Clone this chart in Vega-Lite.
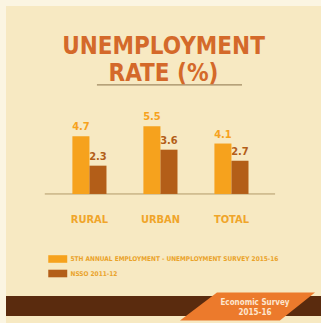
{
  "$schema": "https://vega.github.io/schema/vega-lite/v6.json",
  "width": 315,
  "height": 317,
  "autosize": {"type": "none"},
  "padding": {"left": 6, "top": 6, "right": 0, "bottom": 0},
  "background": "#fbf5e2",
  "config": {"view": {"fill": "#f7e9c2", "stroke": null}},
  "title": {
    "text": ["UNEMPLOYMENT", "RATE (%)"],
    "font": "DejaVu Sans Condensed",
    "fontWeight": "bold",
    "fontSize": 24,
    "lineHeight": 27,
    "color": "#d4692a",
    "anchor": "middle",
    "offset": -80
  },
  "data": {
    "values": [
      {"area": "RURAL", "series": "5TH ANNUAL EMPLOYMENT - UNEMPLOYMENT SURVEY 2015-16", "value": 4.7},
      {"area": "RURAL", "series": "NSSO 2011-12", "value": 2.3},
      {"area": "URBAN", "series": "5TH ANNUAL EMPLOYMENT - UNEMPLOYMENT SURVEY 2015-16", "value": 5.5},
      {"area": "URBAN", "series": "NSSO 2011-12", "value": 3.6},
      {"area": "TOTAL", "series": "5TH ANNUAL EMPLOYMENT - UNEMPLOYMENT SURVEY 2015-16", "value": 4.1},
      {"area": "TOTAL", "series": "NSSO 2011-12", "value": 2.7}
    ]
  },
  "layer": [
    {
      "data": {"values": [{"k": 1}]},
      "mark": {"type": "rect", "color": "#5a2b0e"},
      "encoding": {
        "y": {"datum": -8.29, "type": "quantitative", "axis": null},
        "y2": {"datum": -9.92}
      }
    },
    {
      "data": {"values": [{"k": 1}]},
      "mark": {"type": "point", "shape": "M -1 0.207 L -0.452 -0.207 L 1 -0.207 L 0.48 0.207 Z", "size": 18225, "filled": true, "color": "#ec7a2c", "opacity": 1, "strokeWidth": 0},
      "encoding": {
        "x": {"datum": "TOTAL", "type": "nominal", "bandPosition": 0.97, "axis": null},
        "y": {"datum": -9.15, "type": "quantitative", "axis": null}
      }
    },
    {
      "data": {"values": [{"k": 1}]},
      "mark": {"type": "text", "text": ["Economic Survey", "2015-16"], "color": "#fde6cf", "font": "DejaVu Sans Condensed", "fontWeight": "bold", "fontSize": 8, "lineHeight": 10, "baseline": "middle", "align": "center"},
      "encoding": {
        "x": {"datum": "TOTAL", "type": "nominal", "bandPosition": 1.19, "axis": null},
        "y": {"datum": -8.9, "type": "quantitative", "axis": null}
      }
    },
    {
      "data": {"values": [{"k": 1}]},
      "mark": {"type": "rule", "color": "#a08a62", "strokeWidth": 1.2},
      "encoding": {
        "x": {"datum": "RURAL", "type": "nominal", "bandPosition": 0.72, "axis": null},
        "x2": {"datum": "TOTAL", "bandPosition": 0.81},
        "y": {"datum": 8.86, "type": "quantitative", "axis": null}
      }
    },
    {
      "data": {"values": [{"k": 1}]},
      "mark": {"type": "rule", "color": "#b39a6a", "strokeWidth": 1},
      "encoding": {
        "x": {"datum": "RURAL", "type": "nominal", "bandPosition": -0.81, "axis": null},
        "x2": {"datum": "TOTAL", "bandPosition": 1.78},
        "y": {"datum": 0, "type": "quantitative", "axis": null}
      }
    },
    {
      "mark": {"type": "bar"},
      "encoding": {
        "x": {
          "field": "area",
          "type": "nominal",
          "scale": {"domain": ["RURAL", "URBAN", "TOTAL"], "paddingInner": 0.52, "paddingOuter": 0.978, "align": 0.478},
          "axis": null
        },
        "xOffset": {"field": "series", "type": "nominal", "scale": {"domain": ["5TH ANNUAL EMPLOYMENT - UNEMPLOYMENT SURVEY 2015-16", "NSSO 2011-12"], "paddingInner": 0}},
        "y": {"field": "value", "type": "quantitative", "scale": {"domain": [-10.49, 15.28], "nice": false, "zero": false}, "axis": null},
        "color": {
          "field": "series",
          "type": "nominal",
          "scale": {"domain": ["5TH ANNUAL EMPLOYMENT - UNEMPLOYMENT SURVEY 2015-16", "NSSO 2011-12"], "range": ["#f6a21d", "#b35e18"]},
          "legend": {
            "orient": "none",
            "legendX": 46.75,
            "legendY": 248,
            "title": null,
            "symbolType": "M-2,-0.8H2V0.8H-2Z",
            "symbolSize": 90,
            "symbolStrokeWidth": 0,
            "symbolOpacity": 1,
            "labelFont": "DejaVu Sans Condensed",
            "labelFontWeight": "bold",
            "labelFontSize": 6.5,
            "labelColor": "#eaa32a",
            "labelOffset": 7.75,
            "rowPadding": 5.5,
            "labelLimit": 300
          }
        }
      }
    },
    {
      "mark": {"type": "text", "dy": -9, "font": "DejaVu Sans Condensed", "fontWeight": "bold", "fontSize": 11},
      "encoding": {
        "x": {"field": "area", "type": "nominal", "axis": null},
        "xOffset": {"field": "series", "type": "nominal"},
        "y": {"field": "value", "type": "quantitative", "axis": null},
        "text": {"field": "value", "type": "quantitative", "format": ".1f"},
        "color": {"field": "series", "type": "nominal"}
      }
    },
    {
      "transform": [{"filter": "datum.series === 'NSSO 2011-12'"}],
      "mark": {"type": "text", "dy": 26, "baseline": "middle", "align": "center", "font": "DejaVu Sans Condensed", "fontWeight": "bold", "fontSize": 11, "color": "#f0a52a"},
      "encoding": {
        "x": {"field": "area", "type": "nominal", "axis": null},
        "y": {"datum": 0, "type": "quantitative", "axis": null},
        "text": {"field": "area", "type": "nominal"}
      }
    }
  ]
}
